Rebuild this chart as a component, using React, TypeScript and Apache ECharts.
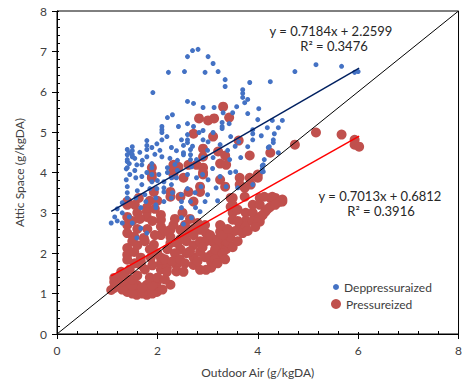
import React, { useEffect, useRef } from "react";
import * as echarts from "echarts";

const X_TICKS = [0, 2, 4, 6, 8];
const Y_TICKS = [0, 1, 2, 3, 4, 5, 6, 7, 8];

const SERIES_NAMES = ["Deppressuraized", "Pressureized"];

const depressurized: [number, number][] = [
  [2.6, 6.87], [2.7, 7.02], [2.81, 7.05], [3.01, 6.87], [3.11, 6.7], [3.21, 6.5], [3.35, 6.3], [3.35, 6.13],
  [2.22, 6.48], [2.54, 6.5], [2.95, 6.48], [1.91, 5.98], [3.84, 6.23], [4.25, 6.25], [3.7, 6.05], [3.7, 5.96],
  [3.7, 5.86], [3.8, 5.81], [3.74, 5.73], [2.6, 5.76], [2.72, 5.71], [2.91, 5.61], [3.13, 5.61], [3.31, 5.48],
  [3.5, 5.48], [3.58, 5.63], [3.8, 5.46], [4.02, 5.58], [4.0, 5.31], [4.29, 5.29], [4.49, 5.29], [2.2, 5.36],
  [2.3, 5.43], [2.6, 5.21], [2.72, 5.14], [2.09, 5.14], [2.09, 5.06], [2.09, 4.99], [2.42, 5.14], [2.91, 5.04],
  [2.83, 4.99], [3.29, 5.24], [3.29, 5.14], [3.29, 5.09], [3.43, 5.21], [3.9, 5.06], [3.9, 4.96], [4.19, 5.11],
  [4.33, 4.96], [4.41, 5.11], [2.19, 4.89], [2.09, 4.81], [1.99, 4.71], [1.79, 4.79], [1.79, 4.67], [1.79, 4.57],
  [1.89, 4.62], [2.48, 4.81], [2.6, 4.94], [2.6, 4.81], [2.6, 4.74], [2.91, 4.81], [3.01, 4.76], [3.11, 4.99],
  [3.46, 4.89], [3.62, 4.76], [3.8, 4.64], [3.9, 4.81], [4.07, 4.91], [4.31, 4.81], [4.31, 4.74], [4.21, 4.62],
  [4.41, 4.49], [1.5, 4.64], [1.5, 4.54], [1.5, 4.44], [1.4, 4.44], [1.4, 4.32], [1.4, 4.27], [2.09, 4.39],
  [1.79, 4.39], [2.28, 4.62], [2.38, 4.54], [2.52, 4.67], [2.52, 4.49], [2.52, 4.44], [2.66, 4.57], [2.66, 4.44],
  [2.66, 4.32], [2.78, 4.32], [2.91, 4.37], [3.11, 4.37], [3.25, 4.69], [3.44, 4.32], [3.66, 4.37], [4.13, 4.32],
  [4.11, 4.19], [1.59, 4.19], [1.69, 4.19], [1.4, 4.12], [1.89, 4.22], [4.74, 6.5], [5.16, 6.67], [5.67, 6.63],
  [5.93, 6.48], [6.0, 6.5], [4.09, 4.17], [4.09, 4.09], [4.11, 4.02], [4.23, 4.64],
  [1.38, 4.09], [1.38, 3.82], [1.57, 3.87], [1.69, 3.9], [1.79, 4.0], [1.89, 4.12], [1.89, 3.95], [1.89, 3.77],
  [2.03, 3.95], [2.13, 3.77], [2.13, 3.62], [2.13, 3.52], [2.28, 3.87], [2.28, 3.7], [2.38, 3.87], [2.68, 4.14],
  [2.78, 3.87], [2.87, 3.65], [3.01, 3.82], [3.17, 3.62], [3.37, 3.65], [3.56, 4.02], [3.6, 3.62], [3.9, 3.7],
  [4.09, 4.02], [1.4, 3.37], [1.57, 3.37], [1.67, 3.13], [1.77, 3.28], [1.97, 3.37], [1.97, 3.2], [1.97, 3.13],
  [2.13, 3.28], [2.28, 3.37], [2.48, 3.45], [2.48, 3.28], [2.48, 3.13], [2.66, 3.28], [2.76, 3.13], [2.95, 3.28],
  [2.85, 3.03], [2.48, 2.88], [2.68, 2.88], [1.08, 2.75], [1.2, 2.8], [1.3, 2.75], [1.44, 2.9], [1.5, 2.75],
  [1.67, 2.62], [1.59, 2.38], [1.79, 2.5], [2.52, 2.72], [1.4, 4.57], [1.44, 4.49], [1.5, 4.39], [1.44, 4.22],
  [1.69, 3.7], [1.99, 3.6], [2.2, 4.12], [2.4, 4.05], [2.6, 3.95], [2.6, 3.6], [2.75, 3.5], [2.9, 3.95],
  [3.1, 4.1], [3.25, 3.9], [3.45, 4.0], [3.0, 3.45], [3.2, 3.3], [2.3, 3.5], [2.05, 4.55], [2.7, 4.65],
  [3.0, 4.55], [3.4, 4.55], [3.55, 4.65], [2.4, 4.3], [1.65, 4.5],
  [1.4, 3.5], [1.4, 3.65], [1.45, 3.95], [1.55, 4.05], [1.6, 3.55], [1.75, 3.45], [1.85, 3.6], [2.0, 3.8],
  [2.2, 4.0], [2.35, 4.2], [1.55, 4.35], [1.7, 4.3], [1.95, 4.45], [2.25, 4.35], [1.3, 3.25], [1.2, 3.1],
  [1.3, 3.0], [1.15, 2.9],
];

const pressurized: [number, number][] = [
  [3.31, 5.63], [2.83, 5.34], [3.01, 5.29], [3.13, 5.34], [3.43, 5.36], [2.72, 4.96], [3.11, 4.89], [3.62, 4.79],
  [2.91, 4.59], [3.21, 4.52], [3.35, 4.42], [3.84, 4.42], [4.25, 4.49], [2.91, 4.39], [2.32, 4.19], [2.42, 4.14],
  [2.62, 4.19], [3.25, 4.22], [3.37, 4.19], [1.89, 4.12], [4.74, 4.69], [5.16, 4.99], [5.67, 4.94], [5.93, 4.81],
  [5.93, 4.69], [6.02, 4.64], [4.0, 3.95], [1.89, 3.95], [1.89, 3.87], [2.32, 4.07], [2.32, 3.95], [2.78, 4.19],
  [2.91, 4.12], [2.91, 3.95], [2.52, 3.87], [1.93, 3.52], [2.26, 3.52], [2.26, 3.4], [2.46, 3.4], [2.62, 3.52],
  [2.85, 3.65], [2.85, 3.52], [2.72, 3.28], [1.4, 3.28], [1.4, 3.2], [1.63, 3.37], [1.79, 3.13], [1.79, 3.03],
  [1.79, 2.9], [2.07, 2.95], [2.07, 2.83], [2.32, 2.7], [1.4, 2.9], [1.4, 2.7], [1.4, 2.5], [1.54, 2.41],
  [1.73, 2.38], [1.93, 2.21], [2.07, 2.66], [2.07, 2.45], [2.26, 2.58], [2.26, 2.4], [2.26, 2.25], [2.46, 2.58],
  [2.46, 2.35], [2.46, 2.1], [2.58, 2.5], [2.58, 2.3], [2.58, 2.0], [2.72, 2.45], [2.72, 2.2], [2.72, 1.9],
  [2.72, 1.71], [2.85, 2.58], [2.85, 2.3], [2.85, 2.03], [2.97, 2.5], [2.97, 2.3], [3.11, 2.28], [3.25, 2.21],
  [3.37, 2.21], [3.07, 1.96], [3.07, 1.79], [2.38, 1.71], [2.38, 1.55], [2.52, 1.54], [2.85, 1.59], [1.4, 2.13],
  [1.4, 1.96], [1.4, 1.84], [1.54, 2.03], [1.67, 1.89], [1.67, 1.79], [1.67, 1.71], [1.87, 1.89], [2.07, 1.89],
  [2.07, 1.75], [2.07, 1.6], [2.19, 1.64], [2.19, 1.54], [1.28, 1.54], [1.28, 1.4], [1.14, 1.39], [1.14, 1.29],
  [1.14, 1.14], [1.08, 1.09], [1.4, 1.29], [1.4, 1.15], [1.4, 1.04], [1.59, 1.22], [1.59, 1.1], [1.59, 0.97],
  [1.79, 1.22], [1.79, 1.1], [1.79, 0.97], [1.99, 1.29], [1.99, 1.15], [1.99, 1.04], [2.26, 1.22], [3.5, 3.37],
  [3.5, 3.2], [3.5, 3.0], [3.5, 2.83], [3.64, 2.66], [3.76, 3.0], [3.76, 2.8], [3.76, 2.66], [3.9, 3.2],
  [3.9, 3.0], [3.9, 2.8], [4.04, 3.37], [4.04, 3.2], [4.04, 2.9], [4.25, 3.37], [4.35, 3.37], [4.49, 3.28],
  [4.04, 2.78], [3.84, 3.87], [3.64, 3.87], [3.64, 3.7], [3.25, 2.7], [3.25, 2.53], [3.37, 2.28], [3.37, 2.1],
  [3.25, 1.96], [3.07, 1.64], [2.97, 1.59], [4.13, 3.4], [4.29, 3.4], [4.49, 3.33], [4.39, 3.25], [4.25, 3.15],
  [4.15, 3.03], [4.06, 2.9], [4.0, 2.78], [4.0, 3.87], [3.25, 3.82], [3.35, 3.65], [2.91, 4.0], [3.86, 3.7],
  [3.74, 3.62], [3.74, 3.4], [3.46, 3.37], [3.46, 3.15], [3.6, 3.08], [4.45, 3.28], [3.27, 2.66], [3.41, 2.26],
  [1.2, 1.2], [1.3, 1.1], [1.5, 1.0], [1.5, 1.2], [1.7, 1.0], [1.7, 1.15], [1.9, 1.0], [1.9, 1.2],
  [2.1, 1.1], [1.3, 1.3], [1.5, 1.35], [1.6, 1.45], [1.85, 1.4], [2.0, 1.4], [2.15, 1.35], [1.35, 1.45],
  [1.45, 1.6], [1.55, 1.75], [1.75, 1.6], [1.9, 1.7], [2.0, 2.0], [1.85, 2.1], [1.6, 2.2], [1.75, 2.3],
  [1.5, 2.3], [2.15, 1.85], [2.2, 2.1], [1.95, 2.45], [1.8, 2.6], [1.6, 2.6], [2.15, 2.55], [1.5, 2.8],
  [1.6, 3.0], [1.65, 2.85], [1.9, 2.8], [1.95, 3.1], [1.55, 3.2], [1.85, 3.3], [2.0, 3.3], [2.3, 1.8],
  [2.35, 2.0], [2.45, 1.85], [2.55, 1.75], [2.65, 2.05], [2.8, 1.8], [2.9, 2.15], [2.95, 1.9], [2.4, 2.25],
  [2.55, 2.7], [2.7, 2.6], [2.35, 2.85], [2.5, 3.0], [2.65, 2.85], [2.8, 2.75], [2.95, 2.7], [3.05, 2.45],
  [3.15, 2.1], [3.2, 2.35], [3.15, 1.85], [3.3, 2.0], [3.45, 2.4], [3.55, 2.55], [3.6, 2.8], [3.7, 2.5],
  [3.5, 2.15], [3.6, 2.3], [3.8, 2.55], [3.95, 2.65], [4.1, 2.95], [4.2, 3.1], [4.35, 3.2], [3.3, 2.45],
  [3.4, 2.6], [3.2, 1.75], [3.35, 1.85],
];

// Trend lines
const TREND_SLOPES = [0.7184, 0.7013];
const TREND_INTERCEPTS = [2.2599, 0.6812];
const TREND_R2 = [0.3476, 0.3916];
const TREND_X_RANGE: [number, number][] = [[1.08, 6.02], [1.08, 6.02]];
const ONE_TO_ONE: [number, number][] = [[0, 0], [8, 8]];

const FONT = "Lato, 'Open Sans', sans-serif";
const TEXT = "#404040";
const BLUE = "#4472C4";
const RED = "#C0504D";

function trendPoints(i: number): [number, number][] {
  return TREND_X_RANGE[i].map((x) => [x, TREND_SLOPES[i] * x + TREND_INTERCEPTS[i]] as [number, number]);
}

export default function App() {
  const ref = useRef<HTMLDivElement>(null);
  useEffect(() => {
    document.body.style.margin = "0";
    if (!ref.current) return;
    const chart = echarts.init(ref.current, undefined, { renderer: "svg" });
    const gridPos = { left: 57, right: 1, top: 11, bottom: 51 };
    const baseAxis = {
      min: 0,
      max: 8,
      splitLine: { show: false },
    };
    chart.setOption({
      animation: false,
      backgroundColor: "#fff",
      textStyle: { fontFamily: FONT },
      grid: { ...gridPos, show: true, borderColor: "#000", borderWidth: 1 },
      xAxis: [
        {
          ...baseAxis,
          type: "value",
          interval: X_TICKS[1] - X_TICKS[0],
          name: "Outdoor Air (g/kgDA)",
          nameLocation: "middle",
          nameGap: 32,
          nameTextStyle: { color: TEXT, fontSize: 12, fontFamily: FONT },
          axisLine: { show: true, onZero: false, lineStyle: { color: "#000", width: 1 } },
          axisTick: { show: true, length: 5, lineStyle: { color: "#000" } },
          axisLabel: { color: TEXT, fontSize: 12, margin: 10, fontFamily: FONT },
        },
        {
          ...baseAxis,
          type: "value",
          interval: 2,
          position: "bottom",
          axisLine: { show: false },
          axisLabel: { show: false },
          axisTick: { show: true, inside: true, length: 2, lineStyle: { color: "#000" } },
          minorTick: { show: true, splitNumber: 5, length: 3, lineStyle: { color: "#000" } },
        },
      ],
      yAxis: [
        {
          ...baseAxis,
          type: "value",
          interval: Y_TICKS[1] - Y_TICKS[0],
          name: "Attic Space (g/kgDA)",
          nameLocation: "middle",
          nameGap: 32,
          nameTextStyle: { color: TEXT, fontSize: 12, fontFamily: FONT },
          axisLine: { show: true, onZero: false, lineStyle: { color: "#000", width: 1 } },
          axisTick: { show: true, length: 5, lineStyle: { color: "#000" } },
          axisLabel: { color: TEXT, fontSize: 12, margin: 10, fontFamily: FONT },
        },
        {
          ...baseAxis,
          type: "value",
          interval: 1,
          position: "left",
          axisLine: { show: false },
          axisLabel: { show: false },
          axisTick: { show: true, inside: true, length: 2, lineStyle: { color: "#000" } },
          minorTick: { show: true, splitNumber: 5, length: 3, lineStyle: { color: "#000" } },
        },
      ],
      legend: [
        {
          data: [{ name: SERIES_NAMES[0], icon: "circle" }],
          left: 328,
          top: 276,
          itemWidth: 6,
          itemHeight: 6,
          textStyle: { color: TEXT, fontSize: 12, fontFamily: FONT },
        },
        {
          data: [{ name: SERIES_NAMES[1], icon: "circle" }],
          left: 326,
          top: 293,
          itemWidth: 10,
          itemHeight: 10,
          textStyle: { color: TEXT, fontSize: 12, fontFamily: FONT },
        },
      ],
      series: [
        {
          name: SERIES_NAMES[1],
          type: "scatter",
          data: pressurized,
          symbolSize: 10,
          itemStyle: { color: RED, opacity: 1 },
          z: 2,
        },
        {
          name: SERIES_NAMES[0],
          type: "scatter",
          data: depressurized,
          symbolSize: 5,
          itemStyle: { color: BLUE, opacity: 1 },
          z: 3,
        },
        {
          type: "line",
          data: ONE_TO_ONE,
          showSymbol: false,
          silent: true,
          lineStyle: { color: "#000", width: 1 },
          z: 4,
        },
        {
          type: "line",
          data: trendPoints(0),
          showSymbol: false,
          silent: true,
          lineStyle: { color: "#002060", width: 1.5 },
          z: 5,
        },
        {
          type: "line",
          data: trendPoints(1),
          showSymbol: false,
          silent: true,
          lineStyle: { color: "#FF0000", width: 1.5 },
          z: 5,
        },
      ],
      graphic: [
        {
          type: "text",
          style: {
            text: `y = ${TREND_SLOPES[0]}x + ${TREND_INTERCEPTS[0]}`,
            x: 331, y: 31, align: "center", verticalAlign: "middle",
            fill: "#262626", fontSize: 13, fontFamily: FONT,
          },
        },
        {
          type: "text",
          style: {
            text: `R² = ${TREND_R2[0]}`,
            x: 334, y: 46, align: "center", verticalAlign: "middle",
            fill: "#262626", fontSize: 13, fontFamily: FONT,
          },
        },
        {
          type: "text",
          style: {
            text: `y = ${TREND_SLOPES[1]}x + ${TREND_INTERCEPTS[1]}`,
            x: 380, y: 196, align: "center", verticalAlign: "middle",
            fill: "#262626", fontSize: 13, fontFamily: FONT,
          },
        },
        {
          type: "text",
          style: {
            text: `R² = ${TREND_R2[1]}`,
            x: 381, y: 211, align: "center", verticalAlign: "middle",
            fill: "#262626", fontSize: 13, fontFamily: FONT,
          },
        },
      ],
    });
    return () => chart.dispose();
  }, []);
  return <div ref={ref} style={{ width: 465, height: 385 }} />;
}
